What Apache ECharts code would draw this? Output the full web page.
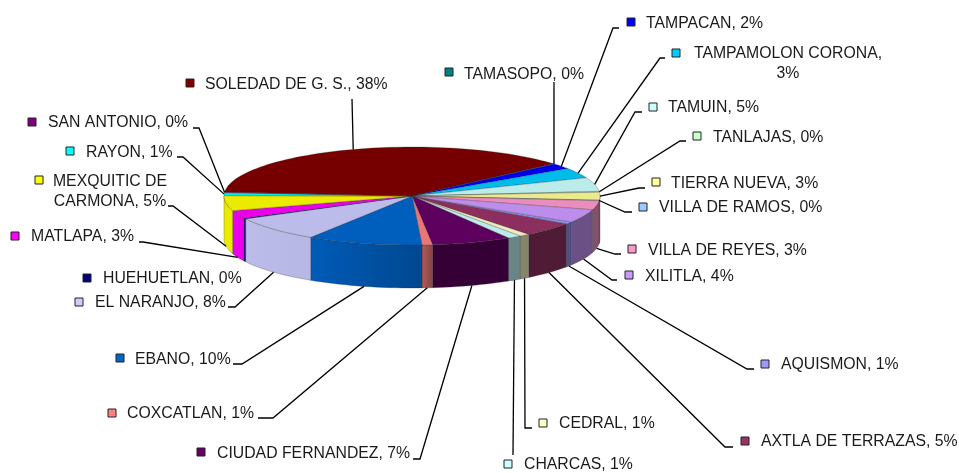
<!DOCTYPE html>
<html>
<head>
<meta charset="utf-8">
<title>Pie</title>
<script src="https://cdn.jsdelivr.net/npm/echarts@6/dist/echarts.min.js"></script>
<style>
html, body { margin: 0; padding: 0; background: #fff; }
#chart { width: 959px; height: 473px; }
</style>
</head>
<body>
<div id="chart"></div>
<script>
// municipios, in the order the slices run clockwise
const names = ['AQUISMON', 'AXTLA DE TERRAZAS', 'CEDRAL', 'CHARCAS', 'CIUDAD FERNANDEZ', 'COXCATLAN', 'EBANO',
    'EL NARANJO', 'HUEHUETLAN', 'MATLAPA', 'MEXQUITIC DE CARMONA', 'RAYON', 'SAN ANTONIO', 'SOLEDAD DE G. S.',
    'TAMASOPO', 'TAMPACAN', 'TAMPAMOLON CORONA', 'TAMUIN', 'TANLAJAS', 'TIERRA NUEVA', 'VILLA DE RAMOS',
    'VILLA DE REYES', 'XILITLA']
// percent (labels only show the rounded number)
const values = [0.8, 4.7, 0.9, 1.2, 6.9, 0.9, 10, 8.3, 0.3, 2.6, 5, 1, 0.2, 37.6, 0.1, 1.9, 3.4, 4.6, 0.3, 2.6, 0.2, 3, 4.4]
const colors = ['#9999ff', '#993366', '#ffffcc', '#ccffff', '#660066', '#ff8080', '#0066cc', '#ccccff', '#000080',
    '#ff00ff', '#ffff00', '#00ffff', '#800080', '#800000', '#008080', '#0000ff', '#00ccff', '#ccffff', '#ccffcc',
    '#ffff99', '#99ccff', '#ff99cc', '#cc99ff']

// pie geometry
const cx = 412, cy = 196, rx = 188, ry = 49, depth = 43
const firstAngle = 122
const rad = Math.PI / 180

// label placement by slice index: key (square), text x/y, leader elbow and end
const labelPos = [
    { key: [765, 364], tx: 781, ty: 365, line: [[747, 369], [754, 369]] },
    { key: [745, 441], tx: 761, ty: 442, line: [[725, 447], [733, 447]] },
    { key: [543, 423], tx: 559, ty: 424, line: [[525, 428], [532, 428]] },
    { key: [508, 464], tx: 524, ty: 465, line: [[513, 455]] },
    { key: [201, 452], tx: 217, ty: 454, line: [[420, 459], [413, 459]] },
    { key: [112, 413], tx: 127, ty: 414, line: [[273, 418], [258, 418]] },
    { key: [120, 358], tx: 135, ty: 360, line: [[242, 364], [233, 364]] },
    { key: [79, 302], tx: 95, ty: 303, line: [[235, 307], [228, 307]] },
    { key: [87, 278], tx: 103, ty: 279 },
    { key: [15, 236], tx: 31, ty: 237, line: [[143, 242], [139, 242]] },
    { key: [39, 180], tx: 110, ty: 192, center: true, br: 'DE ', line: [[173, 206], [168, 206]] },
    { key: [70, 151], tx: 86, ty: 153, line: [[183, 157], [177, 157]] },
    { key: [32, 122], tx: 48, ty: 123, line: [[199, 128], [193, 128]] },
    { key: [190, 83], tx: 205, ty: 85, line: [[352, 99]] },
    { key: [449, 72], tx: 464, ty: 75, line: [[554, 82]] },
    { key: [631, 22], tx: 646, ty: 24, line: [[613, 28], [619, 28]] },
    { key: [676, 53], tx: 788, ty: 64, center: true, br: 'CORONA, ', line: [[660, 58], [665, 58]] },
    { key: [653, 107], tx: 668, ty: 108, line: [[635, 112], [642, 112]] },
    { key: [697, 136], tx: 713, ty: 138, line: [[680, 141], [686, 141]] },
    { key: [656, 182], tx: 671, ty: 184, line: [[639, 188], [645, 188]] },
    { key: [643, 207], tx: 659, ty: 208, line: [[625, 212], [632, 212]] },
    { key: [632, 249], tx: 648, ty: 251, line: [[615, 254], [621, 254]] },
    { key: [629, 275], tx: 645, ty: 277, line: [[612, 280], [617, 280]] }
]

const total = values.reduce((a, b) => a + b, 0)
let acc = firstAngle
const slices = values.map(v => {
    const s = { start: acc, end: acc + v / total * 360 }
    acc = s.end
    return s
})

const rimPoint = (deg, drop) => [cx + rx * Math.sin(deg * rad), cy - ry * Math.cos(deg * rad) + drop]

const arcPoints = (a, b, drop) => {
    const n = Math.max(2, Math.ceil(Math.abs(b - a) / 2))
    const pts = []
    for (let i = 0; i <= n; i++) pts.push(rimPoint(a + (b - a) * i / n, drop))
    return pts
}

// multiply a hex colour by a factor
const shade = (hex, f) => {
    const n = parseInt(hex.slice(1), 16)
    const c = [n >> 16, (n >> 8) & 255, n & 255].map(x => Math.round(x * f))
    return 'rgb(' + c.join(',') + ')'
}

// the wall gets darker from left to right
const wallShade = nx => {
    if (nx < -0.55) return 0.92
    if (nx < 0.05) return 0.9 - (nx + 0.55) * 0.3
    if (nx < 0.1) return 0.72 - (nx - 0.05) * 4
    return 0.52
}

const renderWall = (params) => {
    const i = params.dataIndex
    const s = slices[i]
    const children = []
    ;[[90, 270], [450, 630]].forEach(([lo, hi]) => {
        const a = Math.max(s.start, lo), b = Math.min(s.end, hi)
        if (b <= a) return
        const pts = arcPoints(a, b, 0).concat(arcPoints(b, a, depth))
        // angles run right to left along the front wall
        children.push({
            type: 'polygon',
            shape: { points: pts },
            style: {
                fill: {
                    type: 'linear', x: 1, y: 0, x2: 0, y2: 0,
                    colorStops: [
                        { offset: 0, color: shade(colors[i], wallShade(Math.sin(a * rad))) },
                        { offset: 1, color: shade(colors[i], wallShade(Math.sin(b * rad))) }
                    ]
                },
                stroke: 'rgba(40,40,40,0.45)',
                lineWidth: 0.6
            }
        })
    })
    return { type: 'group', children }
}

const renderTop = (params) => {
    const i = params.dataIndex
    const s = slices[i]
    return {
        type: 'polygon',
        shape: { points: [[cx, cy]].concat(arcPoints(s.start, s.end, 0)) },
        style: { fill: shade(colors[i], 0.92), stroke: 'rgba(40,40,40,0.45)', lineWidth: 0.6 }
    }
}

const renderLabel = (params, api) => {
    const i = params.dataIndex
    const p = labelPos[i]
    const mid = (slices[i].start + slices[i].end) / 2
    const cos = Math.cos(mid * rad)
    // leaders start on the bottom rim on the front of the pie
    const anchor = rimPoint(mid, cos < -0.1 ? depth : 0)
    let text = names[i] + ', ' + Math.round(api.value(0)) + '%'
    if (p.br) text = text.replace(p.br, p.br.trim() + '\n')
    const children = [
        {
            type: 'rect',
            shape: { x: p.key[0] - 4, y: p.key[1] - 4, width: 8, height: 8 },
            style: { fill: colors[i], stroke: '#222', lineWidth: 1 }
        },
        {
            type: 'text',
            style: {
                text: text,
                x: p.tx,
                y: p.ty,
                font: '15.8px "Liberation Sans"',
                fill: '#1a1a1a',
                align: p.center ? 'center' : 'left',
                verticalAlign: 'middle',
                lineHeight: 20
            }
        }
    ]
    if (p.line) {
        children.unshift({
            type: 'polyline',
            shape: { points: [anchor].concat(p.line) },
            style: { fill: null, stroke: '#000', lineWidth: 1.3 }
        })
    }
    return { type: 'group', children }
}

const myChart = echarts.init(document.getElementById('chart'))
myChart.setOption({
    animation: false,
    backgroundColor: '#fff',
    series: [
        { type: 'custom', coordinateSystem: 'none', silent: true, data: values, renderItem: renderWall },
        { type: 'custom', coordinateSystem: 'none', silent: true, data: values, renderItem: renderTop },
        { type: 'custom', coordinateSystem: 'none', silent: true, data: values, renderItem: renderLabel }
    ]
})
</script>
</body>
</html>
